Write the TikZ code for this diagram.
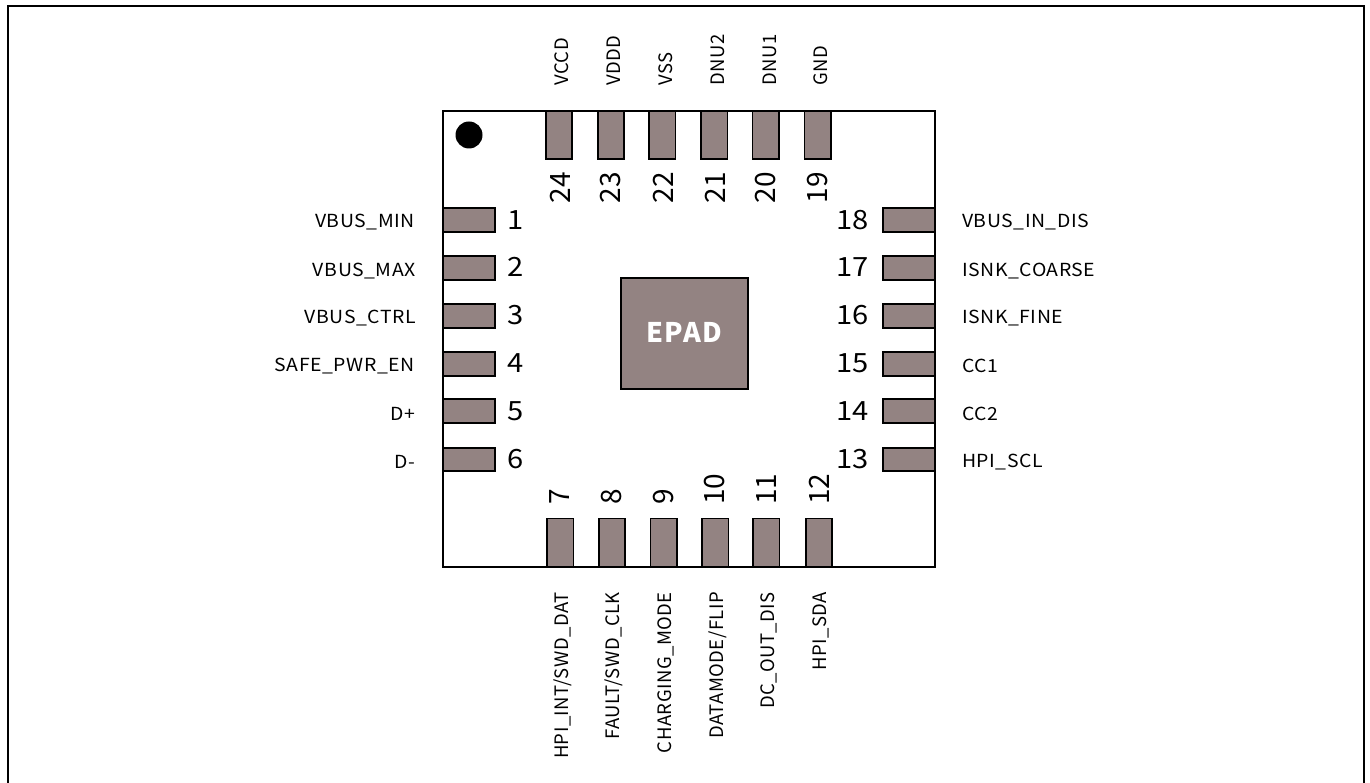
\documentclass[tikz,border=0pt]{standalone}
\usepackage{fontspec}
\setmainfont{Noto Sans CJK JP}
\newfontfamily\pinfont[FakeStretch=1.08,LetterSpace=3]{Noto Sans CJK JP}
\newfontfamily\pinvfont[LetterSpace=2.5]{Noto Sans CJK JP}
\newfontfamily\pinnfont[FakeStretch=1.1]{Noto Sans CJK JP}
\newfontfamily\epadfont[LetterSpace=5.5]{Noto Sans CJK JP}
\definecolor{padgrey}{HTML}{938382}
\tikzstyle{padh}=[draw=black,line width=1.6pt,fill=padgrey,minimum width=52pt,minimum height=23.5pt,inner sep=0pt]
\tikzstyle{padv}=[draw=black,line width=1.6pt,fill=padgrey,minimum width=26.5pt,minimum height=48pt,inner sep=0pt]
\tikzstyle{pinh}=[font=\fontsize{18}{20}\pinfont,inner sep=0pt]
\tikzstyle{pinv}=[font=\fontsize{18.5}{20}\pinvfont,inner sep=0pt,rotate=90]
\tikzstyle{pinn}=[font=\fontsize{26.5}{30}\pinnfont,inner sep=0pt]
\tikzstyle{pinr}=[font=\fontsize{28}{30}\selectfont,inner sep=0pt,rotate=90]

\begin{document}
\begin{tikzpicture}[x=1pt,y=-1pt]
    \useasboundingbox (0,0) rectangle (1370,783);
    \coordinate (fl) at (8,783);
    \coordinate (tl) at (8,5.8);
    \coordinate (tr) at (1364,5.8);
    \coordinate (fr) at (1364,783);
    \draw[line width=2pt] (fl) -- (tl) -- (tr) -- (fr);
    \node[draw=black,line width=1.5pt,minimum width=492pt,minimum height=456pt,inner sep=0pt] (chip) at (689,339) {};
    \node[circle,fill=black,minimum size=27pt,inner sep=0pt] (dot) at (469,135) {};
    \node[draw=black,line width=1.2pt,fill=padgrey,minimum width=127pt,minimum height=111pt,inner sep=0pt,text=white,font=\fontsize{27}{30}\epadfont\bfseries] (epad) at (684.5,333.5) {\raisebox{1.5pt}{EPAD}};

    \node[padh] (p1) at (469,220) {};
    \node[padh] (p2) at (469,268) {};
    \node[padh] (p3) at (469,316) {};
    \node[padh] (p4) at (469,364) {};
    \node[padh] (p5) at (469,411) {};
    \node[padh] (p6) at (469,459.5) {};
    \node[padv] (p7) at (560.2,542.5) {};
    \node[padv] (p8) at (612,542.5) {};
    \node[padv] (p9) at (663.7,542.5) {};
    \node[padv] (p10) at (715.3,542.5) {};
    \node[padv] (p11) at (766.3,542.5) {};
    \node[padv] (p12) at (819,542.5) {};
    \node[padh] (p13) at (908.7,459.5) {};
    \node[padh] (p14) at (908.7,411) {};
    \node[padh] (p15) at (908.7,364) {};
    \node[padh] (p16) at (908.7,316) {};
    \node[padh] (p17) at (908.7,268) {};
    \node[padh] (p18) at (908.7,220) {};
    \node[padv] (p19) at (817.7,135) {};
    \node[padv] (p20) at (765.7,135) {};
    \node[padv] (p21) at (714.3,135) {};
    \node[padv] (p22) at (662.3,135) {};
    \node[padv] (p23) at (611,135) {};
    \node[padv] (p24) at (559,135) {};

    \node[pinn,anchor=west] (n1) at (507,220) {1};
    \node[pinn,anchor=west] (n2) at (507,267) {2};
    \node[pinn,anchor=west] (n3) at (507,315) {3};
    \node[pinn,anchor=west] (n4) at (507,363) {4};
    \node[pinn,anchor=west] (n5) at (507,411) {5};
    \node[pinn,anchor=west] (n6) at (507,459) {6};
    \node[pinr,anchor=west] (n7) at (560,505) {7};
    \node[pinr,anchor=west] (n8) at (612,505) {8};
    \node[pinr,anchor=west] (n9) at (664,505) {9};
    \node[pinr,anchor=west] (n10) at (715,505) {10};
    \node[pinr,anchor=west] (n11) at (767,505) {11};
    \node[pinr,anchor=west] (n12) at (819,505) {12};
    \node[pinn,anchor=east] (n13) at (869,459) {13};
    \node[pinn,anchor=east] (n14) at (869,411) {14};
    \node[pinn,anchor=east] (n15) at (869,363) {15};
    \node[pinn,anchor=east] (n16) at (869,315) {16};
    \node[pinn,anchor=east] (n17) at (869,267) {17};
    \node[pinn,anchor=east] (n18) at (869,220) {18};
    \node[pinr,anchor=east] (n19) at (818,172) {19};
    \node[pinr,anchor=east] (n20) at (766,172) {20};
    \node[pinr,anchor=east] (n21) at (715,172) {21};
    \node[pinr,anchor=east] (n22) at (663,172) {22};
    \node[pinr,anchor=east] (n23) at (611,172) {23};
    \node[pinr,anchor=east] (n24) at (560,172) {24};

    \node[pinh,anchor=east] (en1) at (415,222) {VBUS\_MIN};
    \node[pinh,anchor=east] (en2) at (416,271) {VBUS\_MAX};
    \node[pinh,anchor=east] (en3) at (416,318) {VBUS\_CTRL};
    \node[pinh,anchor=east] (en4) at (415,366) {SAFE\_PWR\_EN};
    \node[pinh,anchor=east] (en5) at (415,414) {D+};
    \node[pinh,anchor=east] (en6) at (415,462) {D-};
    \node[pinv,anchor=east] (en7) at (563,592) {HPI\_INT/SWD\_DAT};
    \node[pinv,anchor=east] (en8) at (614,592) {FAULT/SWD\_CLK};
    \node[pinv,anchor=east] (en9) at (666,592) {CHARGING\_MODE};
    \node[pinv,anchor=east] (en10) at (718,592) {DATAMODE/FLIP};
    \node[pinv,anchor=east] (en11) at (769,592) {DC\_OUT\_DIS};
    \node[pinv,anchor=east] (en12) at (821,592) {HPI\_SDA};
    \node[pinh,anchor=west] (en13) at (962,462) {HPI\_SCL};
    \node[pinh,anchor=west] (en14) at (962,414) {CC2};
    \node[pinh,anchor=west] (en15) at (962,366) {CC1};
    \node[pinh,anchor=west] (en16) at (962,318) {ISNK\_FINE};
    \node[pinh,anchor=west] (en17) at (962,271) {ISNK\_COARSE};
    \node[pinh,anchor=west] (en18) at (962,222) {VBUS\_IN\_DIS};
    \node[pinv,anchor=west] (en19) at (821,86) {GND};
    \node[pinv,anchor=west] (en20) at (770,86) {DNU1};
    \node[pinv,anchor=west] (en21) at (718,86) {DNU2};
    \node[pinv,anchor=west] (en22) at (666,86) {VSS};
    \node[pinv,anchor=west] (en23) at (614,86) {VDDD};
    \node[pinv,anchor=west] (en24) at (562,86) {VCCD};
\end{tikzpicture}
\end{document}
